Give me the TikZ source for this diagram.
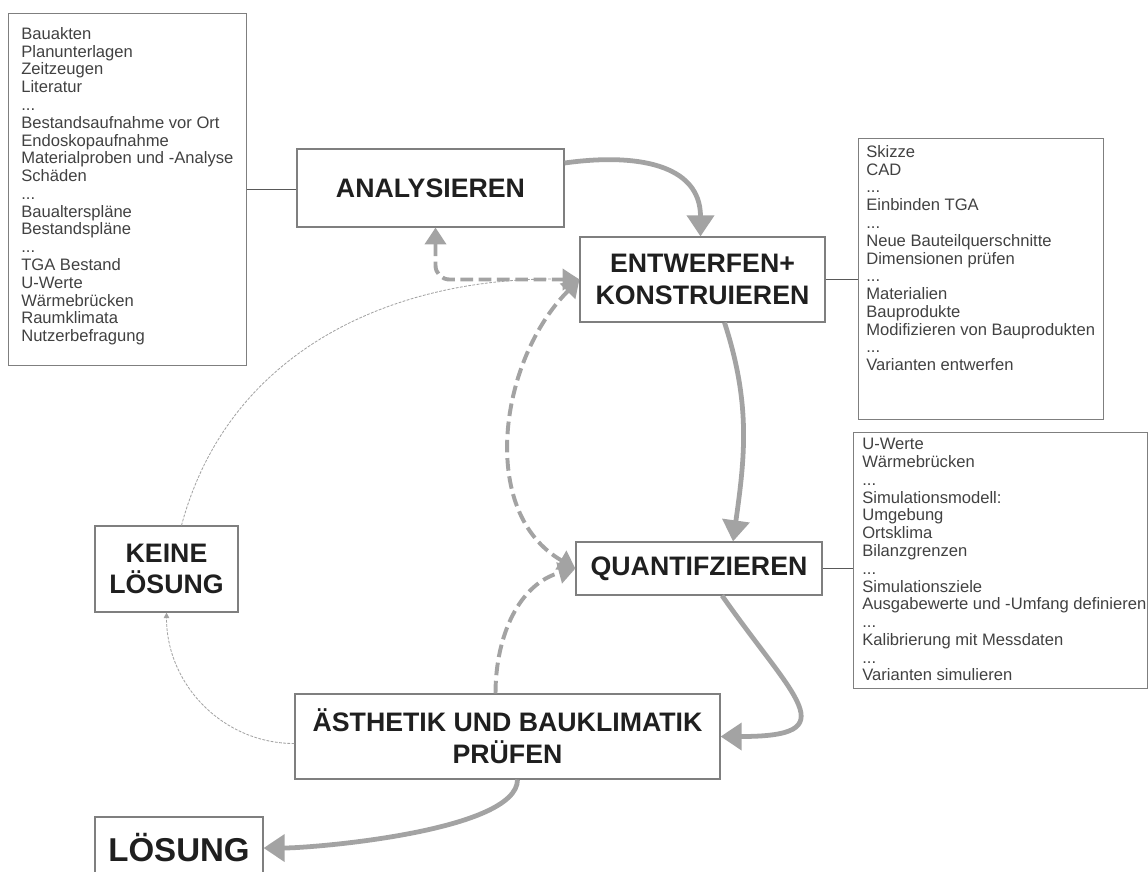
\documentclass[tikz,border=0pt]{standalone}
\usepackage{fontspec}
\setmainfont{Liberation Sans}
\usetikzlibrary{arrows.meta, positioning, calc}
\newlength\pxu
\setlength\pxu{0.025cm}
\definecolor{boxline}{HTML}{7F7F7F}
\definecolor{flowgray}{HTML}{A3A3A3}
\definecolor{ink}{HTML}{1F1F1F}
\tikzset{
  stage/.style = {draw=boxline, line width=0.8pt, align=center, text=ink,
    font=\bfseries\fontsize{19}{22.5}\selectfont, inner sep=0pt},
  listframe/.style = {draw=boxline, line width=0.7pt, anchor=north west,
    inner sep=0pt},
  listtext/.style = {anchor=north west, align=left, inner sep=0pt,
    text=ink!85, font=\fontsize{11.8}{12.65}\selectfont},
  flow/.style = {draw=flowgray, line width=3.4pt,
    -{Triangle[length=15pt, width=19pt]}},
  back/.style = {draw=flowgray, line width=2.8pt, dash pattern=on 9pt off 4pt,
    >={Triangle[length=12pt, width=15pt]}, ->},
  hint/.style = {draw=flowgray, line width=0.6pt, dash pattern=on 2pt off 1pt,
    -{Triangle[length=4pt, width=4pt]}},
  link/.style = {draw=boxline!70!black, line width=0.6pt}
}

\begin{document}
\begin{tikzpicture}[x=0.025cm, y=0.025cm]
\useasboundingbox (0,0) rectangle (1148,-871);

% the cycle
\node[stage, minimum width=267*\pxu, minimum height=78*\pxu] (ana) at (430.5,-188) {ANALYSIEREN};
\node[stage, minimum width=245*\pxu, minimum height=85*\pxu] (ent) at (702.5,-279.5) {ENTWERFEN+\\KONSTRUIEREN};
\node[stage, minimum width=246*\pxu, minimum height=53*\pxu] (quant) at (699,-568.5) {QUANTIFZIEREN};
\node[stage, minimum width=425*\pxu, minimum height=85*\pxu] (aes) at (507.5,-736.5) {ÄSTHETIK UND BAUKLIMATIK\\PRÜFEN};
\node[stage, minimum width=143*\pxu, minimum height=86*\pxu] (keine) at (166.5,-569) {KEINE\\LÖSUNG};
\node[stage, minimum width=168*\pxu, minimum height=62*\pxu,
  font=\bfseries\fontsize{23.5}{28}\selectfont] (loes) at (179,-848) {LÖSUNG};

% lists of tasks
\node[listframe, minimum width=238*\pxu, minimum height=352*\pxu] (quellen) at (8,-13) {};
\node[listtext] at ($(quellen.north west)+(13,-14)$) {Bauakten\\ Planunterlagen\\ Zeitzeugen\\ Literatur\\ ...\\
  Bestandsaufnahme vor Ort\\ Endoskopaufnahme\\ Materialproben und -Analyse\\ Schäden\\ ...\\
  Baualterspläne\\ Bestandspläne\\ ...\\ TGA Bestand\\ U-Werte\\ Wärmebrücken\\ Raumklimata\\ Nutzerbefragung};

\node[listframe, minimum width=245*\pxu, minimum height=281*\pxu] (entlist) at (858,-138) {};
\node[listtext] at ($(entlist.north west)+(8,-7)$) {Skizze\\ CAD\\ ...\\ Einbinden TGA\\ ...\\
  Neue Bauteilquerschnitte\\ Dimensionen prüfen\\ ...\\ Materialien\\ Bauprodukte\\
  Modifizieren von Bauprodukten\\ ...\\ Varianten entwerfen};

\node[listframe, minimum width=294*\pxu, minimum height=256*\pxu] (quantlist) at (853,-432) {};
\node[listtext] at ($(quantlist.north west)+(9,-6)$) {U-Werte\\ Wärmebrücken\\ ...\\ Simulationsmodell:\\
  Umgebung\\ Ortsklima\\ Bilanzgrenzen\\ ...\\ Simulationsziele\\ Ausgabewerte und -Umfang definieren\\
  ...\\ Kalibrierung mit Messdaten\\ ...\\ Varianten simulieren};

\draw[link] (quellen.east) -- (quellen.east -| ana.west);
\draw[link] (ent.east) -- (ent.east -| entlist.west);
\draw[link] (quant.east) -- (quant.east -| quantlist.west);

% way out when nothing works
\draw[hint] ($(keine.north)+(15,0)$) to[out=75, in=178] (ent.west);
\draw[hint] ($(aes.west)+(0,-7)$) to[out=180, in=-90] (keine.south);

% going back a step
\draw[back, <->, rounded corners=10pt] ($(ana.south)+(5,0)$) |- (ent.west);
\draw[back, <->] (ent.west) to[out=225, in=150] (quant.west);
\draw[back] ($(aes.north)+(-12,0)$) to[out=90, in=195] (quant.west);

% main flow
\draw[flow] (ana.east) ++(0,25) to[out=8, in=90, looseness=1.2] ($(ent.north)+(-2,0)$);
\draw[flow] ($(ent.south)+(22,0)$) to[out=-72, in=82] ($(quant.north)+(34,0)$);
\draw[flow] ($(quant.south)+(23,0)$) to[out=-55, in=0, looseness=2.3] (aes.east);
\draw[flow] ($(aes.south)+(10,0)$) to[out=-90, in=0, looseness=0.5] (loes.east);
\end{tikzpicture}
\end{document}
